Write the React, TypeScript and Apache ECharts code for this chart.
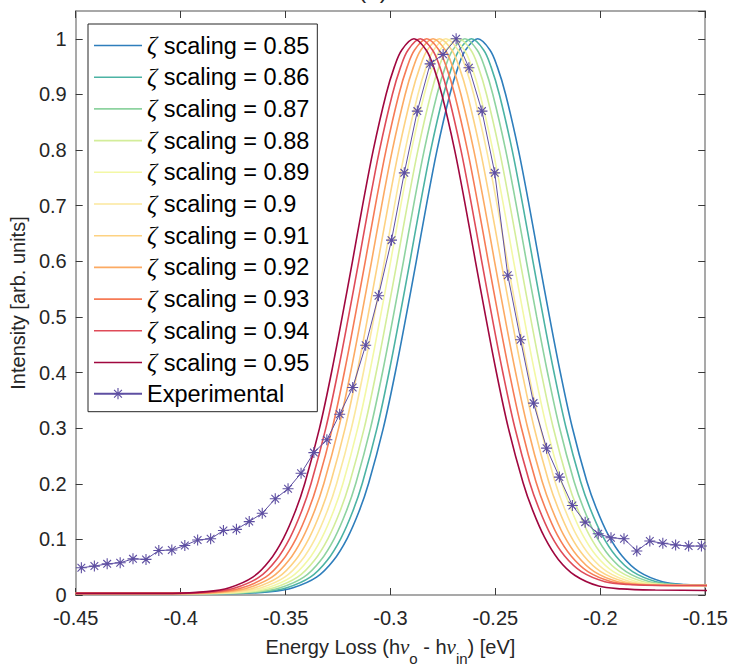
import React, { useEffect, useRef } from "react";
import * as echarts from "echarts";

// ---------- data ----------
const zetaLabels = ["0.85", "0.86", "0.87", "0.88", "0.89", "0.9", "0.91", "0.92", "0.93", "0.94", "0.95"];
const curveColors = [
  "#2e7ebc", "#4cb3a4", "#8ed3a0", "#d3ed9a", "#f3f8a5", "#fbe79d",
  "#fdd282", "#fcaa63", "#f67a55", "#df4b58", "#a0073f",
];

// intensity levels along each simulated curve (left tail -> peak -> right tail)
const curveLevels = [
  0.003, 0.003, 0.006, 0.013, 0.032, 0.062, 0.102, 0.151, 0.201, 0.3, 0.4, 0.5, 0.6, 0.7, 0.8, 0.9, 0.95, 0.98, 1.0,
  0.98, 0.95, 0.9, 0.8, 0.7, 0.6, 0.5, 0.401, 0.302, 0.204, 0.156, 0.108, 0.07, 0.042, 0.024, 0.019, 0.017, 0.017,
];
const curveLevelsDark = [
  0.003, 0.003, 0.006, 0.013, 0.032, 0.062, 0.102, 0.151, 0.201, 0.3, 0.4, 0.5, 0.6, 0.7, 0.8, 0.9, 0.95, 0.98, 1.0,
  0.98, 0.95, 0.9, 0.8, 0.7, 0.6, 0.5, 0.4, 0.3, 0.202, 0.153, 0.104, 0.064, 0.035, 0.016, 0.011, 0.009, 0.008,
];

// energy positions (eV) where each curve takes the levels above
const x085 = [-0.45, -0.3734, -0.3572, -0.3464, -0.3352, -0.3272, -0.3206, -0.3149, -0.3104, -0.3034, -0.2977, -0.2926, -0.2877, -0.2829, -0.2778, -0.2717, -0.2677, -0.2642, -0.2584, -0.2526, -0.2491, -0.2451, -0.239, -0.2339, -0.2291, -0.2242, -0.2191, -0.2134, -0.2064, -0.2019, -0.1962, -0.1896, -0.1816, -0.1704, -0.1596, -0.1434, -0.14];
const x086 = [-0.45, -0.3764, -0.3602, -0.3494, -0.3382, -0.3302, -0.3236, -0.3179, -0.3134, -0.3064, -0.3007, -0.2956, -0.2907, -0.2859, -0.2808, -0.2747, -0.2707, -0.2672, -0.2614, -0.2556, -0.2521, -0.2481, -0.242, -0.2369, -0.2321, -0.2272, -0.2221, -0.2164, -0.2094, -0.2049, -0.1992, -0.1926, -0.1846, -0.1734, -0.1626, -0.1464, -0.14];
const x087 = [-0.45, -0.3795, -0.3633, -0.3525, -0.3413, -0.3333, -0.3267, -0.321, -0.3165, -0.3095, -0.3038, -0.2987, -0.2938, -0.289, -0.2839, -0.2778, -0.2738, -0.2703, -0.2645, -0.2587, -0.2552, -0.2512, -0.2451, -0.24, -0.2352, -0.2303, -0.2252, -0.2195, -0.2125, -0.208, -0.2023, -0.1957, -0.1877, -0.1765, -0.1657, -0.1495, -0.14];
const x088 = [-0.45, -0.3825, -0.3663, -0.3555, -0.3443, -0.3363, -0.3297, -0.324, -0.3195, -0.3125, -0.3068, -0.3017, -0.2968, -0.292, -0.2869, -0.2808, -0.2768, -0.2733, -0.2675, -0.2617, -0.2582, -0.2542, -0.2481, -0.243, -0.2382, -0.2333, -0.2282, -0.2225, -0.2155, -0.211, -0.2053, -0.1987, -0.1907, -0.1795, -0.1687, -0.1525, -0.14];
const x089 = [-0.45, -0.3856, -0.3694, -0.3586, -0.3474, -0.3394, -0.3328, -0.3271, -0.3226, -0.3156, -0.3099, -0.3048, -0.2999, -0.2951, -0.29, -0.2839, -0.2799, -0.2764, -0.2706, -0.2648, -0.2613, -0.2573, -0.2512, -0.2461, -0.2413, -0.2364, -0.2313, -0.2256, -0.2186, -0.2141, -0.2084, -0.2018, -0.1938, -0.1826, -0.1718, -0.1556, -0.14];
const x090 = [-0.45, -0.3886, -0.3724, -0.3616, -0.3504, -0.3424, -0.3358, -0.3301, -0.3256, -0.3186, -0.3129, -0.3078, -0.3029, -0.2981, -0.293, -0.2869, -0.2829, -0.2794, -0.2736, -0.2678, -0.2643, -0.2603, -0.2542, -0.2491, -0.2443, -0.2394, -0.2343, -0.2286, -0.2216, -0.2171, -0.2114, -0.2048, -0.1968, -0.1856, -0.1748, -0.1586, -0.14];
const x091 = [-0.45, -0.3916, -0.3754, -0.3646, -0.3534, -0.3454, -0.3388, -0.3331, -0.3286, -0.3216, -0.3159, -0.3108, -0.3059, -0.3011, -0.296, -0.2899, -0.2859, -0.2824, -0.2766, -0.2708, -0.2673, -0.2633, -0.2572, -0.2521, -0.2473, -0.2424, -0.2373, -0.2316, -0.2246, -0.2201, -0.2144, -0.2078, -0.1998, -0.1886, -0.1778, -0.1616, -0.14];
const x092 = [-0.45, -0.3947, -0.3785, -0.3677, -0.3565, -0.3485, -0.3419, -0.3362, -0.3317, -0.3247, -0.319, -0.3139, -0.309, -0.3042, -0.2991, -0.293, -0.289, -0.2855, -0.2797, -0.2739, -0.2704, -0.2664, -0.2603, -0.2552, -0.2504, -0.2455, -0.2404, -0.2347, -0.2277, -0.2232, -0.2175, -0.2109, -0.2029, -0.1917, -0.1809, -0.1647, -0.14];
const x093 = [-0.45, -0.3977, -0.3815, -0.3707, -0.3595, -0.3515, -0.3449, -0.3392, -0.3347, -0.3277, -0.322, -0.3169, -0.312, -0.3072, -0.3021, -0.296, -0.292, -0.2885, -0.2827, -0.2769, -0.2734, -0.2694, -0.2633, -0.2582, -0.2534, -0.2485, -0.2434, -0.2377, -0.2307, -0.2262, -0.2205, -0.2139, -0.2059, -0.1947, -0.1839, -0.1677, -0.14];
const x094 = [-0.45, -0.4008, -0.3846, -0.3738, -0.3626, -0.3546, -0.348, -0.3423, -0.3378, -0.3308, -0.3251, -0.32, -0.3151, -0.3103, -0.3052, -0.2991, -0.2951, -0.2916, -0.2858, -0.28, -0.2765, -0.2725, -0.2664, -0.2613, -0.2565, -0.2516, -0.2465, -0.2408, -0.2338, -0.2293, -0.2236, -0.217, -0.209, -0.1978, -0.187, -0.1708, -0.14];
const x095 = [-0.45, -0.4038, -0.3876, -0.3768, -0.3656, -0.3576, -0.351, -0.3453, -0.3408, -0.3338, -0.3281, -0.323, -0.3181, -0.3133, -0.3082, -0.3021, -0.2981, -0.2946, -0.2888, -0.283, -0.2795, -0.2755, -0.2694, -0.2643, -0.2595, -0.2546, -0.2495, -0.2438, -0.2368, -0.2323, -0.2266, -0.22, -0.212, -0.2008, -0.19, -0.1738, -0.14];

const expX = [
  -0.4473, -0.4411, -0.435, -0.4288, -0.4227, -0.4165, -0.4104, -0.4042, -0.398, -0.3919,
  -0.3857, -0.3796, -0.3734, -0.3673, -0.3611, -0.3549, -0.3488, -0.3426, -0.3365, -0.3303,
  -0.3242, -0.318, -0.3118, -0.3057, -0.2995, -0.2934, -0.2872, -0.2811, -0.2749, -0.2687,
  -0.2626, -0.2564, -0.2503, -0.2441, -0.238, -0.2318, -0.2256, -0.2195, -0.2133, -0.2072,
  -0.201, -0.1949, -0.1887, -0.1826, -0.1764, -0.1702, -0.1641, -0.1579, -0.1518,
];
const expY = [
  0.049, 0.052, 0.056, 0.058, 0.065, 0.064, 0.08, 0.081, 0.089, 0.099,
  0.101, 0.116, 0.118, 0.132, 0.147, 0.173, 0.191, 0.219, 0.256, 0.279,
  0.325, 0.373, 0.449, 0.538, 0.638, 0.759, 0.87, 0.955, 0.972, 1.0,
  0.948, 0.87, 0.759, 0.575, 0.459, 0.345, 0.264, 0.212, 0.161, 0.131,
  0.11, 0.103, 0.101, 0.079, 0.097, 0.093, 0.09, 0.088, 0.088,
];
const expColor = "#5e4fa2";

const xTicks = { min: -0.45, max: -0.15, interval: 0.05 };
const yTicks = { min: 0, max: 1.05, interval: 0.1 };

// ---------- styling ----------
const FONT = "'Liberation Sans', Arial, Helvetica, sans-serif";
const SERIF = "'Liberation Serif', 'DejaVu Serif', serif";
const AXIS_COLOR = "#8c8c8c";
const TICK_COLOR = "#3a3a3a";
const TEXT_COLOR = "#262626";
const ASTERISK =
  "path://M9,0L11,0L11,20L9,20Z M0,9L20,9L20,11L0,11Z M3.71,2.29L17.71,16.29L16.29,17.71L2.29,3.71Z M16.29,2.29L17.71,3.71L3.71,17.71L2.29,16.29Z";
const LINE_ICON = "path://M0,0L30,0L30,1L0,1Z";

export default function App() {
  const ref = useRef<HTMLDivElement | null>(null);

  useEffect(() => {
    if (!ref.current) return;
    const chart = echarts.init(ref.current, null, { renderer: "svg" });
    const xSets = [x085, x086, x087, x088, x089, x090, x091, x092, x093, x094, x095];

    const curveSeries = zetaLabels.map((z, i) => {
      const lv = i === zetaLabels.length - 1 ? curveLevelsDark : curveLevels;
      return {
        name: `ζ scaling = ${z}`,
        type: "line",
        xAxisIndex: 0,
        yAxisIndex: 0,
        data: xSets[i].map((x, j) => [x, lv[j]]),
        symbol: "none",
        showSymbol: false,
        smooth: 0.35,
        clip: true,
        lineStyle: { width: 1.6, color: curveColors[i] },
        itemStyle: { color: curveColors[i] },
        z: 2,
      };
    });

    const expSeries = {
      name: "Experimental",
      type: "line",
      xAxisIndex: 0,
      yAxisIndex: 0,
      data: expX.map((x, i) => [x, expY[i]]),
      symbol: ASTERISK,
      symbolSize: 11,
      showSymbol: true,
      showAllSymbol: true,
      clip: true,
      lineStyle: { width: 1, color: expColor },
      itemStyle: { color: expColor, borderWidth: 0 },
      z: 3,
    };

    const axisLine = { show: true, onZero: false, lineStyle: { color: AXIS_COLOR, width: 1.5 } };
    const axisTick = { show: true, inside: true, length: 7, lineStyle: { color: TICK_COLOR, width: 1 } };

    chart.setOption({
      animation: false,
      backgroundColor: "#ffffff",
      textStyle: { fontFamily: FONT },
      grid: { left: 75, top: 11, width: 632, height: 590, containLabel: false },
      xAxis: [
        {
          type: "value",
          position: "bottom",
          ...xTicks,
          axisLine,
          axisTick,
          splitLine: { show: false },
          axisLabel: { color: TEXT_COLOR, fontSize: 20, margin: 13, fontFamily: FONT },
          name:
            "{t|Energy Loss (h}{nu|ν}{sub|o}{t| - h}{nu|ν}{sub|in}{t|) [eV]}",
          nameLocation: "middle",
          nameGap: 33,
          nameTextStyle: {
            rich: {
              t: { fontSize: 20, lineHeight: 38, color: TEXT_COLOR, fontFamily: FONT },
              nu: { fontSize: 21, lineHeight: 38, color: TEXT_COLOR, fontFamily: SERIF, fontStyle: "italic" },
              sub: { fontSize: 15, lineHeight: 15, color: TEXT_COLOR, fontFamily: FONT, verticalAlign: "bottom" },
            },
          },
        },
        {
          type: "value",
          position: "top",
          ...xTicks,
          axisLine,
          axisTick,
          splitLine: { show: false },
          axisLabel: { show: false },
        },
      ],
      yAxis: [
        {
          type: "value",
          position: "left",
          ...yTicks,
          axisLine,
          axisTick,
          splitLine: { show: false },
          axisLabel: { color: TEXT_COLOR, fontSize: 20, margin: 9, showMaxLabel: false, fontFamily: FONT },
          name: "Intensity [arb. units]",
          nameLocation: "middle",
          nameGap: 36,
          nameTextStyle: { color: TEXT_COLOR, fontSize: 20, fontFamily: FONT },
        },
        {
          type: "value",
          position: "right",
          ...yTicks,
          axisLine,
          axisTick,
          splitLine: { show: false },
          axisLabel: { show: false },
        },
      ],
      legend: {
        orient: "vertical",
        left: 88,
        top: 24,
        padding: [9, 8, 6, 5],
        itemWidth: 48,
        itemHeight: 14,
        itemGap: 6.7,
        selectedMode: false,
        backgroundColor: "#ffffff",
        borderColor: "#262626",
        borderWidth: 1,
        symbolKeepAspect: true,
        itemStyle: { borderWidth: 0 },
        data: [
          ...zetaLabels.map((z) => ({ name: `ζ scaling = ${z}`, icon: LINE_ICON })),
          { name: "Experimental" },
        ],
        formatter: (name: string) =>
          name.startsWith("ζ") ? `{z|ζ}${name.slice(1)}` : name,
        textStyle: {
          fontSize: 23.5,
          lineHeight: 24,
          color: "#000000",
          fontFamily: FONT,
          rich: {
            z: { fontSize: 25, lineHeight: 24, fontFamily: SERIF, fontStyle: "italic", color: "#000000" },
          },
        },
        z: 10,
      },
      graphic: [
        {
          type: "text",
          x: 373,
          y: 1,
          style: {
            text: "(b)",
            fontSize: 24,
            fontFamily: FONT,
            fill: TEXT_COLOR,
            align: "center",
            verticalAlign: "bottom",
          },
        },
      ],
      series: [...curveSeries, expSeries],
    });

    return () => chart.dispose();
  }, []);

  return (
    <div
      ref={ref}
      style={{ position: "fixed", left: 0, top: 0, width: 731, height: 671, background: "#fff" }}
    />
  );
}
